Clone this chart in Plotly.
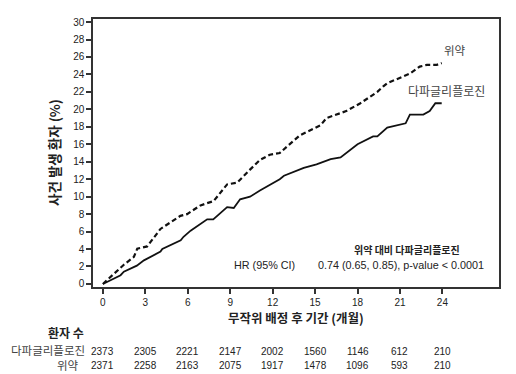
import plotly.graph_objects as go

# Data
placebo_t = [0, 0.55, 1.48, 2.19, 2.43, 3.13, 3.84, 4.07, 5.48, 5.95, 6.9, 7.83, 8.78, 9.49,
             10.4, 11.1, 11.8, 12.5, 13.9, 15.4, 15.8, 17.2, 18.2, 19.4, 19.8, 20.1, 21.2,
             21.7, 22.4, 22.9, 23.6, 23.95]
placebo_y = [0, 0.8, 2.2, 3.1, 4.05, 4.3, 5.8, 6.3, 7.8, 8.0, 9.0, 9.5, 11.4, 11.6,
             13.1, 14.2, 14.8, 15.0, 17.0, 18.2, 19.0, 19.8, 20.7, 22.0, 22.6, 23.0, 23.75,
             24.1, 24.9, 25.1, 25.1, 25.3]

dapa_t = [0, 1.25, 1.48, 2.4, 2.9, 4.07, 4.2, 5.5, 5.7, 6.2, 7.37, 7.8, 8.78, 9.25, 9.7,
          10.4, 11.1, 12.5, 12.8, 14.2, 15.1, 16.1, 16.8, 17.5, 18.0, 19.1, 19.4, 20.1,
          21.4, 21.7, 22.65, 23.1, 23.5, 23.95]
dapa_y = [0, 1.0, 1.4, 2.1, 2.7, 3.7, 4.0, 5.0, 5.4, 6.1, 7.4, 7.4, 8.8, 8.7, 9.7,
          10.0, 10.7, 12.0, 12.4, 13.3, 13.7, 14.3, 14.5, 15.4, 16.0, 16.9, 16.9, 17.9,
          18.4, 19.4, 19.4, 19.8, 20.7, 20.7]

x_ticks = [0, 3, 6, 9, 12, 15, 18, 21, 24]
y_ticks = list(range(0, 31, 2))
risk_dapa = [2373, 2305, 2221, 2147, 2002, 1560, 1146, 612, 210]
risk_placebo = [2371, 2258, 2163, 2075, 1917, 1478, 1096, 593, 210]

label_dapa = "다파글리플로진"
label_placebo = "위약"

FONT = "Arial, Liberation Sans, Noto Sans CJK KR, sans-serif"
KFONT = "Noto Sans CJK KR, Arial, sans-serif"

# page body has an 8px margin; figure is sized to fit the window
OFF = 8
W, H = 516 - OFF, 374 - OFF
L, T, PW, PH = 93, 17, 406, 270  # plot area in window pixels


def px(xp):
    return (xp - L) / PW


def py(yp):
    return (T + PH - yp) / PH


fig = go.Figure()
fig.add_trace(go.Scatter(x=placebo_t, y=placebo_y, mode="lines",
                         line=dict(color="#111", width=2.2, dash="5px,3px"),
                         showlegend=False, hoverinfo="skip"))
fig.add_trace(go.Scatter(x=dapa_t, y=dapa_y, mode="lines",
                         line=dict(color="#111", width=1.8),
                         showlegend=False, hoverinfo="skip"))

ann = []


def add(x, y, text, font, xref="paper", yref="paper", xanchor="center", **kw):
    ann.append(dict(x=x, y=y, xref=xref, yref=yref, text=text, showarrow=False,
                    xanchor=xanchor, yanchor="middle", font=font, **kw))


# series labels
add(24.9, 26.8, label_placebo, dict(family=KFONT, size=11.5, color="#444"), "x", "y")
add(24.26, 22.2, label_dapa, dict(family=KFONT, size=12, color="#444"), "x", "y")
# HR annotation
add(21.5, 3.9, "<b>위약 대비 다파글리플로진</b>", dict(family=KFONT, size=10, color="#222"), "x", "y")
add(11.4, 2.2, "HR (95% CI)", dict(family=FONT, size=10.8, color="#222"), "x", "y")
add(21.1, 2.2, "0.74 (0.65, 0.85), p-value < 0.0001", dict(family=FONT, size=10.8, color="#222"), "x", "y")
# axis titles
add(px(296), py(318), "<b>무작위 배정 후 기간 (개월)</b>", dict(family=KFONT, size=12.5, color="#222"))
add(px(54), py(152), "<b>사건 발생 환자 (%)</b>", dict(family=KFONT, size=13.5, color="#222"),
    textangle=-90)
# risk table
add(px(66), py(333), "<b>환자 수</b>", dict(family=KFONT, size=12, color="#222"))
add(px(87), py(351.5), label_dapa, dict(family=FONT, size=11.5, color="#444"), xanchor="right")
add(px(81), py(366.5), label_placebo, dict(family=FONT, size=11.5, color="#444"), xanchor="right")
for t, a, b in zip(x_ticks, risk_dapa, risk_placebo):
    add(t, py(352), str(a), dict(family=FONT, size=10, color="#222"), "x", "paper")
    add(t, py(366), str(b), dict(family=FONT, size=10, color="#222"), "x", "paper")

fig.update_layout(
    width=W, height=H,
    margin=dict(l=L - OFF, r=W - (L - OFF) - PW, t=T - OFF, b=H - (T - OFF) - PH, pad=0),
    paper_bgcolor="white", plot_bgcolor="white",
    annotations=ann,
    xaxis=dict(range=[-0.7, 28], tickvals=x_ticks, ticks="outside", ticklen=5,
               tickwidth=1.5, tickcolor="#333", showline=True, linecolor="#333",
               linewidth=1.5, mirror=True, showgrid=False, zeroline=False,
               tickfont=dict(family=FONT, size=10, color="#222")),
    yaxis=dict(range=[-0.35, 30.35], tickvals=y_ticks, ticks="outside", ticklen=5,
               tickwidth=1.5, tickcolor="#333", showline=True, linecolor="#333",
               linewidth=1.5, mirror=True, showgrid=False, zeroline=False,
               tickfont=dict(family=FONT, size=10, color="#222")),
)

fig.write_html("out.html")
